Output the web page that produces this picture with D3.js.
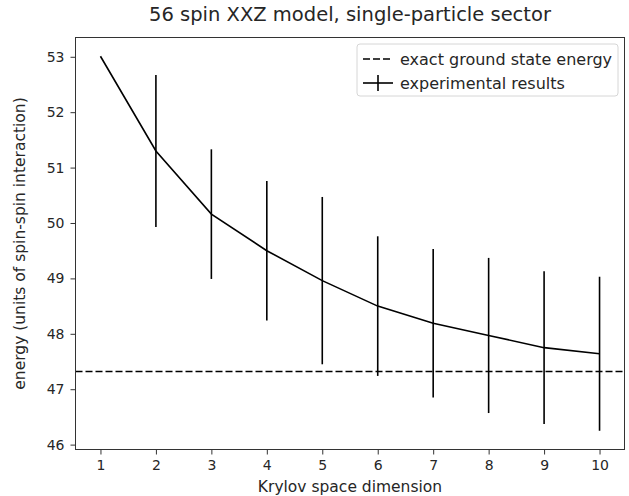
<!DOCTYPE html>
<html>
<head>
<meta charset="utf-8">
<script src="https://cdn.jsdelivr.net/npm/d3@7"></script>
<style>
  body { margin: 0; background: white; }
  text { font-family: "DejaVu Sans", sans-serif; fill: #262626; }
</style>
</head>
<body>
<script>

let dimensions = [1, 2, 3, 4, 5, 6, 7, 8, 9, 10]
let energies = [53.01, 51.3, 50.16, 49.5, 48.96, 48.5, 48.19, 47.97, 47.75, 47.64]
let errors = [0, 1.37, 1.17, 1.26, 1.51, 1.26, 1.34, 1.40, 1.38, 1.39]
let groundEnergy = 47.32
let yTicks = [46, 47, 48, 49, 50, 51, 52, 53]

let width = 629
let height = 496
let margin = {top: 37.5, right: 4.5, bottom: 46.5, left: 75.5}

let svg = d3.select("body").append("svg")
            .attr("width", width)
            .attr("height", height)

let points = dimensions.map(function(d, i) {
  return {x: d, y: energies[i], err: errors[i]}
})

// matplotlib style 5% margins around the data
let xMin = d3.min(dimensions), xMax = d3.max(dimensions)
let yMin = d3.min([groundEnergy].concat(points.map(p => p.y - p.err)))
let yMax = d3.max([groundEnergy].concat(points.map(p => p.y + p.err)))
let xPad = (xMax - xMin) * 0.05
let yPad = (yMax - yMin) * 0.05

let x = d3.scaleLinear()
          .domain([xMin - xPad, xMax + xPad])
          .range([margin.left, width - margin.right])

let y = d3.scaleLinear()
          .domain([yMin - yPad, yMax + yPad])
          .range([height - margin.bottom, margin.top])

let plot = svg.append("g")

plot.append("line")
    .attr("x1", x.range()[0])
    .attr("x2", x.range()[1])
    .attr("y1", y(groundEnergy))
    .attr("y2", y(groundEnergy))
    .attr("stroke", "black")
    .attr("stroke-width", 1.6)
    .attr("stroke-dasharray", "7,3")

plot.selectAll(".errorbar")
    .data(points)
    .enter()
    .append("line")
    .attr("class", "errorbar")
    .attr("x1", p => x(p.x))
    .attr("x2", p => x(p.x))
    .attr("y1", p => y(p.y - p.err))
    .attr("y2", p => y(p.y + p.err))
    .attr("stroke", "black")
    .attr("stroke-width", 1.6)

plot.append("path")
    .datum(points)
    .attr("d", d3.line().x(p => x(p.x)).y(p => y(p.y)))
    .attr("fill", "none")
    .attr("stroke", "black")
    .attr("stroke-width", 1.6)

// axes
svg.append("g")
   .attr("transform", "translate(0," + (height - margin.bottom) + ")")
   .call(d3.axisBottom(x).tickValues(dimensions).tickSize(5).tickPadding(5.5).tickSizeOuter(0))

svg.append("g")
   .attr("transform", "translate(" + margin.left + ",0)")
   .call(d3.axisLeft(y).tickValues(yTicks).tickSize(5).tickPadding(6).tickSizeOuter(0))

svg.selectAll(".domain").remove()
svg.selectAll(".tick line").attr("stroke", "#333").attr("stroke-width", 1)
svg.selectAll(".tick text").style("font-size", "14px").style("font-family", "DejaVu Sans").attr("fill", "#262626")

svg.append("rect")
   .attr("x", margin.left)
   .attr("y", margin.top)
   .attr("width", width - margin.left - margin.right)
   .attr("height", height - margin.top - margin.bottom)
   .attr("fill", "none")
   .attr("stroke", "#333")
   .attr("stroke-width", 1)

svg.append("text")
   .attr("x", (margin.left + width - margin.right) / 2)
   .attr("y", 21)
   .attr("text-anchor", "middle")
   .style("font-size", "19.5px")
   .text("56 spin XXZ model, single-particle sector")

svg.append("text")
   .attr("x", (margin.left + width - margin.right) / 2)
   .attr("y", 492)
   .attr("text-anchor", "middle")
   .style("font-size", "15.5px")
   .text("Krylov space dimension")

svg.append("text")
   .attr("transform", "translate(25," + (margin.top + height - margin.bottom) / 2 + ") rotate(-90)")
   .attr("text-anchor", "middle")
   .style("font-size", "15.5px")
   .text("energy (units of spin-spin interaction)")

// legend
let legend = svg.append("g").attr("transform", "translate(357,44)")

legend.append("rect")
      .attr("width", 261)
      .attr("height", 52)
      .attr("rx", 3)
      .attr("fill", "white")
      .attr("fill-opacity", 0.8)
      .attr("stroke", "#d6d6d6")

legend.append("line")
      .attr("x1", 6).attr("x2", 36)
      .attr("y1", 15).attr("y2", 15)
      .attr("stroke", "black")
      .attr("stroke-width", 1.6)
      .attr("stroke-dasharray", "7,3")

legend.append("line")
      .attr("x1", 6).attr("x2", 36)
      .attr("y1", 39).attr("y2", 39)
      .attr("stroke", "black")
      .attr("stroke-width", 1.6)

legend.append("line")
      .attr("x1", 21).attr("x2", 21)
      .attr("y1", 31).attr("y2", 47)
      .attr("stroke", "black")
      .attr("stroke-width", 1.6)

legend.append("text")
      .attr("x", 43).attr("y", 20.5)
      .style("font-size", "16px")
      .text("exact ground state energy")

legend.append("text")
      .attr("x", 43).attr("y", 44.5)
      .style("font-size", "16px")
      .text("experimental results")

</script>
</body>
</html>
